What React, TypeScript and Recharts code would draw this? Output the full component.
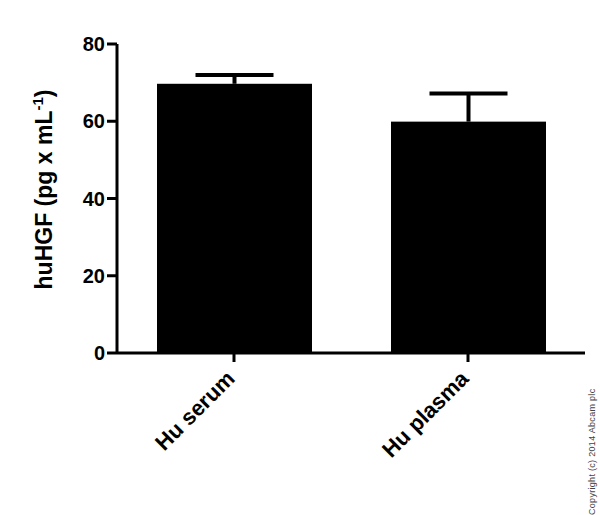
import React from 'react';
import { BarChart, Bar, XAxis, YAxis } from 'recharts';

const categories = ['Hu serum', 'Hu plasma'];
const means = [69.7, 59.9];
const upperErrors = [2.3, 7.3];
const yTicks = [0, 20, 40, 60, 80];

const data = categories.map((name, i) => ({ name, value: means[i], err: upperErrors[i] }));

const FONT = '"Liberation Sans", Arial, Helvetica, sans-serif';

const BarWithError = (props: any) => {
  const { x, y, width, height, payload } = props;
  const pxPerUnit = height / payload.value;
  const topY = y - payload.err * pxPerUnit;
  const cx = x + width / 2;
  return (
    <g>
      <rect x={x} y={y} width={width} height={height} fill="#000" />
      <line x1={cx} x2={cx} y1={y} y2={topY} stroke="#000" strokeWidth={4} />
      <line x1={cx - 39} x2={cx + 39} y1={topY} y2={topY} stroke="#000" strokeWidth={4} />
    </g>
  );
};

const XTick = (props: any) => {
  const { x, y, payload } = props;
  return (
    <text
      transform={`translate(${x + 2},${y + 16}) rotate(-45)`}
      textAnchor="end"
      fontFamily={FONT}
      fontWeight="bold"
      fontSize={22}
      fill="#000"
    >
      {payload.value}
    </text>
  );
};

const YLabel = (props: any) => {
  const vb = props.viewBox || { x: 0, y: 44, width: 117, height: 309 };
  const cx = vb.x + 52;
  const cy = vb.y + vb.height / 2 - 9;
  return (
    <text
      transform={`translate(${cx},${cy}) rotate(-90)`}
      textAnchor="middle"
      fontFamily={FONT}
      fontWeight="bold"
      fontSize={23}
      fill="#000"
    >
      huHGF (pg x mL
      <tspan dy={-9} fontSize={15}>-1</tspan>
      <tspan dy={9}>)</tspan>
    </text>
  );
};

export default function App() {
  return (
    <div style={{ position: 'absolute', left: 0, top: 0, width: 600, height: 515, background: '#fff' }}>
      <BarChart
        width={600}
        height={515}
        data={data}
        margin={{ top: 44, right: 15, bottom: 0, left: 0 }}
      >
        <XAxis
          dataKey="name"
          height={162}
          axisLine={{ stroke: '#000', strokeWidth: 3 }}
          tickLine={{ stroke: '#000', strokeWidth: 3 }}
          tickSize={9}
          tick={<XTick />}
          interval={0}
        />
        <YAxis
          width={117}
          domain={[0, 80]}
          ticks={yTicks}
          allowDataOverflow
          axisLine={{ stroke: '#000', strokeWidth: 3 }}
          tickLine={{ stroke: '#000', strokeWidth: 3 }}
          tickSize={10}
          tickMargin={2}
          tick={{ fill: '#000', fontSize: 20, fontWeight: 'bold', fontFamily: FONT }}
          label={{ content: <YLabel /> }}
        />
        <Bar dataKey="value" barSize={155} shape={<BarWithError />} isAnimationActive={false} />
      </BarChart>
      <svg width={600} height={515} style={{ position: 'absolute', left: 0, top: 0, pointerEvents: 'none' }}>
        <text
          transform="translate(595,515) rotate(-90)"
          textAnchor="start"
          fontFamily={FONT}
          fontSize={9}
          letterSpacing={0.3}
          fill="#444"
        >
          Copyright (c) 2014 Abcam plc
        </text>
      </svg>
    </div>
  );
}
